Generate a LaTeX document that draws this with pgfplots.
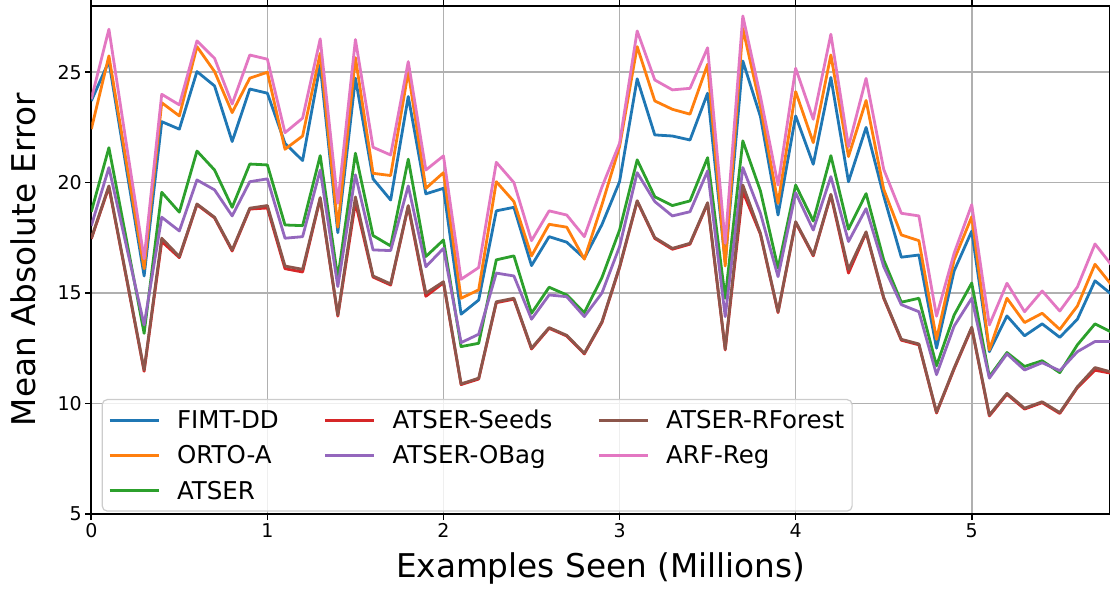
\documentclass[border=0pt]{standalone}
\usepackage{fontspec}
\setmainfont{DejaVu Sans}
\usepackage{pgfplots}
\usepackage{pgfplotstable}
\pgfplotsset{compat=1.18}

\definecolor{cblue}{HTML}{1F77B4}
\definecolor{corange}{HTML}{FF7F0E}
\definecolor{cgreen}{HTML}{2CA02C}
\definecolor{cred}{HTML}{D62728}
\definecolor{cpurple}{HTML}{9467BD}
\definecolor{cbrown}{HTML}{8C564B}
\definecolor{cpink}{HTML}{E377C2}
\definecolor{gridgray}{HTML}{B0B0B0}
\definecolor{legendgray}{HTML}{CCCCCC}

% Mean absolute error after each 100k examples
\pgfplotstableread{
x   fimt  orto  atser seeds obag  rforest arf
0.0 23.70 22.42 18.68 17.45 18.04 17.48 23.78
0.1 25.50 25.74 21.58 19.80 20.68 19.85 26.95
0.2 20.60 20.90 17.40 15.65 17.10 15.70 21.70
0.3 15.77 16.10 13.17 11.45 13.55 11.51 16.55
0.4 22.76 23.62 19.56 17.33 18.43 17.48 24.00
0.5 22.42 23.02 18.66 16.60 17.81 16.65 23.52
0.6 25.03 26.16 21.43 19.00 20.12 19.03 26.42
0.7 24.38 25.03 20.57 18.40 19.67 18.43 25.63
0.8 21.86 23.17 18.88 16.90 18.49 16.95 23.56
0.9 24.24 24.73 20.84 18.80 20.04 18.84 25.78
1.0 24.05 25.00 20.80 18.85 20.17 18.96 25.59
1.1 21.78 21.51 18.08 16.10 17.48 16.22 22.26
1.2 21.00 22.11 18.05 15.95 17.55 16.07 22.92
1.3 25.33 25.86 21.22 19.28 20.57 19.32 26.51
1.4 17.73 17.98 15.67 13.95 15.29 14.00 19.06
1.5 24.73 25.66 21.33 19.10 20.35 19.35 26.48
1.6 20.17 20.42 17.60 15.72 16.95 15.77 21.60
1.7 19.21 20.32 17.13 15.36 16.92 15.41 21.25
1.8 23.90 25.03 21.06 18.92 19.85 18.96 25.48
1.9 19.49 19.74 16.65 14.85 16.19 14.99 20.57
2.0 19.74 20.45 17.40 15.46 17.02 15.51 21.21
2.1 14.04 14.76 12.57 10.85 12.75 10.88 15.62
2.2 14.68 15.14 12.72 11.10 13.13 11.14 16.15
2.3 18.72 20.04 16.50 14.56 15.90 14.60 20.92
2.4 18.88 19.14 16.68 14.72 15.77 14.76 20.00
2.5 16.24 16.68 14.08 12.46 13.81 12.50 17.37
2.6 17.55 18.11 15.26 13.40 14.91 13.43 18.72
2.7 17.30 17.98 14.91 13.05 14.83 13.08 18.53
2.8 16.57 16.53 14.11 12.24 13.93 12.27 17.55
2.9 18.10 19.00 15.70 13.66 15.00 13.70 19.80
3.0 20.04 21.63 17.85 16.15 17.10 16.19 21.78
3.1 24.70 26.16 21.03 19.15 20.45 19.18 26.87
3.2 22.16 23.70 19.36 17.47 19.14 17.51 24.65
3.3 22.11 23.32 18.96 16.98 18.49 17.02 24.20
3.4 21.93 23.10 19.17 17.21 18.68 17.25 24.27
3.5 24.05 25.36 21.13 19.05 20.53 19.09 26.11
3.6 16.40 16.22 14.76 12.42 13.93 12.45 17.25
3.7 25.51 26.99 21.89 19.60 20.68 19.89 27.55
3.8 22.99 23.44 19.62 17.66 18.61 17.70 23.90
3.9 18.53 19.06 16.12 14.11 15.74 14.15 19.89
4.0 23.02 24.12 19.89 18.19 19.54 18.23 25.18
4.1 20.83 21.81 18.26 16.68 17.85 16.72 22.87
4.2 24.76 25.78 21.22 19.43 20.27 19.47 26.72
4.3 20.04 21.18 17.89 15.90 17.33 16.07 21.63
4.4 22.50 23.72 19.50 17.73 18.82 17.77 24.72
4.5 19.40 19.70 16.50 14.76 16.20 14.80 20.60
4.6 16.62 17.63 14.58 12.86 14.47 12.90 18.61
4.7 16.72 17.37 14.76 12.65 14.15 12.69 18.49
4.8 12.50 12.90 11.70 9.56  11.30 9.60  13.95
4.9 16.00 16.50 14.00 11.56 13.50 11.60 16.80
5.0 17.80 18.45 15.45 13.41 14.76 13.45 19.00
5.1 12.34 12.42 11.21 9.43  11.14 9.47  13.55
5.2 13.96 14.76 12.30 10.41 12.24 10.45 15.44
5.3 13.06 13.66 11.67 9.74  11.51 9.78  14.15
5.4 13.60 14.08 11.93 10.03 11.84 10.07 15.09
5.5 12.99 13.35 11.39 9.54  11.48 9.58  14.18
5.6 13.81 14.41 12.65 10.71 12.34 10.75 15.27
5.7 15.55 16.30 13.60 11.50 12.80 11.62 17.22
5.8 14.90 15.30 13.20 11.35 12.80 11.40 16.20
}\maedata

\begin{document}
\begin{tikzpicture}
\begin{axis}[
  at={(0,0)}, anchor=south west,
  scale only axis, width=1018.7pt, height=507.7pt,
  xmin=0, xmax=5.785, ymin=5, ymax=28,
  xtick={0,1,2,3,4,5}, ytick={5,10,15,20,25},
  grid=major,
  major grid style={color=gridgray, line width=1.6pt},
  axis line style={line width=1.6pt},
  tick align=outside,
  major tick length=6pt,
  tick style={black, line width=1.6pt},
  tick label style={font=\fontsize{19}{22}\selectfont},
  /pgf/number format/assume math mode=true,
  xlabel={Examples Seen (Millions)},
  ylabel={Mean Absolute Error},
  label style={font=\fontsize{32.7}{38}\selectfont},
  xlabel style={at={(axis description cs:0.5,-0.126)}, anchor=base},
  ylabel style={at={(axis description cs:-0.0543,0.5)}, anchor=base},
  legend columns=3,
  legend cell align=left,
  legend image code/.code={\draw[#1, line width=2.8pt] (0pt,0pt) -- (49pt,0pt);},
  legend style={
    at={(axis description cs:0.0102,0.004)}, anchor=south west,
    draw=legendgray, line width=1.2pt, rounded corners=5pt,
    fill=white, fill opacity=0.8, text opacity=1, draw opacity=1,
    font=\fontsize{24.5}{28}\selectfont,
    inner xsep=6pt, inner ysep=8.5pt, row sep=11.5pt,
    /tikz/every odd column/.append style={column sep=15pt},
    /tikz/every even column/.append style={column sep=43pt},
  },
  every axis plot/.append style={line width=2.8pt, line join=round},
]
\addplot[cblue, forget plot] table[x=x, y=fimt] {\maedata};
\addplot[corange, forget plot] table[x=x, y=orto] {\maedata};
\addplot[cgreen, forget plot] table[x=x, y=atser] {\maedata};
\addplot[cred, forget plot] table[x=x, y=seeds] {\maedata};
\addplot[cpurple, forget plot] table[x=x, y=obag] {\maedata};
\addplot[cbrown, forget plot] table[x=x, y=rforest] {\maedata};
\addplot[cpink, forget plot] table[x=x, y=arf] {\maedata};
% legend filled row by row so that the columns read top to bottom
\addlegendimage{cblue}\addlegendentry{FIMT-DD}
\addlegendimage{cred}\addlegendentry{ATSER-Seeds}
\addlegendimage{cbrown}\addlegendentry{ATSER-RForest}
\addlegendimage{corange}\addlegendentry{ORTO-A}
\addlegendimage{cpurple}\addlegendentry{ATSER-OBag}
\addlegendimage{cpink}\addlegendentry{ARF-Reg}
\addlegendimage{cgreen}\addlegendentry{ATSER}
\end{axis}
\pgfresetboundingbox
\path (-91.3pt,-78.3pt) rectangle (1018.7pt,513.7pt);
\end{tikzpicture}
\end{document}
